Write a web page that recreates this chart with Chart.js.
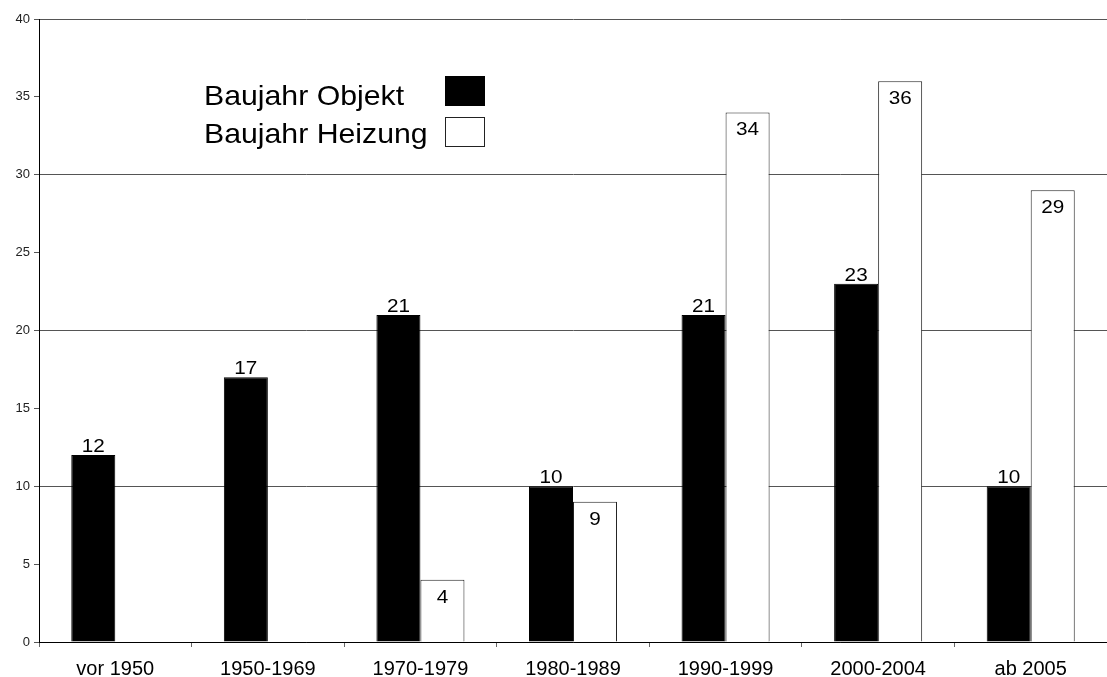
<!DOCTYPE html>
<html>
<head>
<meta charset="utf-8">
<script src="https://cdn.jsdelivr.net/npm/chart.js@4"></script>
<style>
  html, body { margin: 0; padding: 0; background: #fff; }
  #wrap { width: 1107px; height: 677px; }
</style>
</head>
<body>
<div id="wrap"><canvas id="myChart" width="1107" height="677"></canvas></div>
<script>
const categories = ["vor 1950", "1950-1969", "1970-1979", "1980-1989", "1990-1999", "2000-2004", "ab 2005"];
const objektValues = [12, 17, 21, 10, 21, 23, 10];
const heizungValues = [null, null, 4, 9, 34, 36, 29];
const seriesNames = ["Baujahr Objekt", "Baujahr Heizung"];
const yTicks = [0, 5, 10, 15, 20, 25, 30, 35, 40];

const fontFam = "Arial, 'Liberation Sans', sans-serif";
Chart.defaults.font.family = fontFam;
Chart.defaults.color = "#000";

// text slightly wider than tall, as in the source picture
function wideText(ctx, txt, x, y, sx) {
    ctx.save();
    ctx.translate(x, y);
    ctx.scale(sx, 1);
    ctx.fillText(txt, 0, 0);
    ctx.restore();
}

// value labels: above black bars, inside top of white bars
const valueLabels = {
    id: 'valueLabels',
    afterDatasetsDraw(chart) {
        const ctx = chart.ctx;
        ctx.save();
        ctx.font = "18px " + fontFam;
        ctx.fillStyle = '#000';
        ctx.textAlign = 'center';
        ctx.textBaseline = 'alphabetic';
        chart.data.datasets.forEach((ds, i) => {
            const meta = chart.getDatasetMeta(i);
            meta.data.forEach((bar, j) => {
                const v = ds.data[j];
                if (v === null || v === undefined) return;
                if (i === 0) {
                    wideText(ctx, String(v), bar.x, bar.y - 3, 1.15);
                } else {
                    wideText(ctx, String(v), bar.x, bar.y + 23, 1.15);
                }
            });
        });
        ctx.restore();
    }
};

// legend drawn as text followed by box, like the original
const boxLegend = {
    id: 'boxLegend',
    afterDraw(chart) {
        const ctx = chart.ctx;
        const a = chart.chartArea;
        ctx.save();
        ctx.font = "28px " + fontFam;
        ctx.textAlign = 'left';
        ctx.textBaseline = 'alphabetic';
        ctx.fillStyle = '#000';
        const x0 = a.left + 165, boxX = a.left + 406;
        wideText(ctx, seriesNames[0], x0, a.top + 86, 1.08);
        wideText(ctx, seriesNames[1], x0, a.top + 124, 1.08);
        ctx.fillStyle = '#000';
        ctx.fillRect(boxX, a.top + 57, 40, 30);
        ctx.fillStyle = '#fff';
        ctx.strokeStyle = '#222';
        ctx.lineWidth = 1;
        ctx.fillRect(boxX, a.top + 98, 40, 29);
        ctx.strokeRect(boxX + 0.5, a.top + 98.5, 39, 29);
        ctx.restore();
    }
};

new Chart(document.getElementById('myChart'), {
    type: 'bar',
    data: {
        labels: categories,
        datasets: [
            {
                label: seriesNames[0],
                data: objektValues,
                backgroundColor: '#000',
                borderColor: '#000',
                borderWidth: 1,
                categoryPercentage: 0.577,
                barPercentage: 1.0
            },
            {
                label: seriesNames[1],
                data: heizungValues,
                backgroundColor: '#fff',
                borderColor: '#222',
                borderWidth: 1,
                categoryPercentage: 0.577,
                barPercentage: 1.0
            }
        ]
    },
    options: {
        responsive: false,
        animation: false,
        layout: { padding: { top: 19, right: 0, left: 0, bottom: 0 } },
        plugins: {
            legend: { display: false },
            tooltip: { enabled: false }
        },
        scales: {
            x: {
                offset: true,
                border: { color: '#000', width: 1 },
                grid: {
                    offset: true,
                    drawOnChartArea: false,
                    tickLength: 5,
                    tickColor: '#666'
                },
                ticks: {
                    font: { size: 20 },
                    color: '#000',
                    padding: 10
                },
                afterFit(scale) { scale.height = 35; }
            },
            y: {
                min: 0,
                max: 40,
                afterBuildTicks(scale) {
                    scale.ticks = yTicks.map(v => ({ value: v }));
                },
                border: { color: '#000', width: 1 },
                grid: {
                    color: c => (c.tick && c.tick.value % 10 === 0) ? '#555' : 'rgba(0,0,0,0)',
                    tickColor: '#555',
                    tickLength: 5,
                    lineWidth: 1
                },
                ticks: {
                    font: { size: 13 },
                    color: '#222',
                    padding: 4
                },
                afterFit(scale) { scale.width = 39; }
            }
        }
    },
    plugins: [valueLabels, boxLegend]
});
</script>
</body>
</html>
